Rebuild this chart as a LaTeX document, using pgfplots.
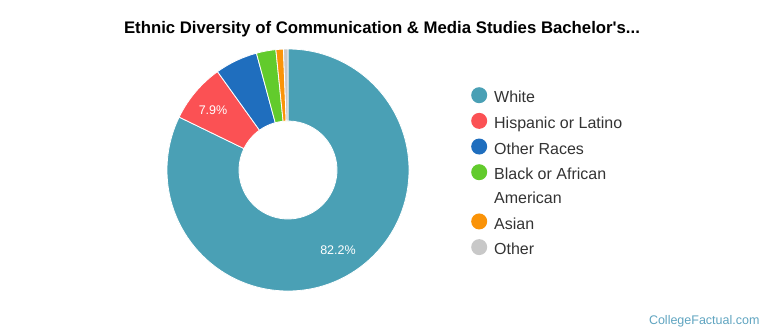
\documentclass[border=0pt]{standalone}
\usepackage{pgfplots}
\pgfplotsset{compat=1.18}
\usepackage{pgfplotstable}
\usepackage{fontspec}
\setmainfont{Liberation Sans}
\usetikzlibrary{calc}
\definecolor{cWhite}{HTML}{4AA0B5}
\definecolor{cHisp}{HTML}{FB5154}
\definecolor{cOtherR}{HTML}{1F6EBE}
\definecolor{cBlack}{HTML}{62CB2C}
\definecolor{cAsian}{HTML}{FA9308}
\definecolor{cOth}{HTML}{C8C8C8}
\definecolor{txt}{HTML}{333333}
\definecolor{brand}{HTML}{5FA4C0}

\pgfplotstableread{
name value color
White 82.2 cWhite
Hispanic 7.9 cHisp
OtherRaces 5.7 cOtherR
Black 2.6 cBlack
Asian 1.0 cAsian
Other 0.6 cOth
}\ethnic

\begin{document}
\begin{tikzpicture}
\def\cum{0}
\pgfplotsforeachungrouped \i in {0,...,5}{%
  \pgfplotstablegetelem{\i}{value}\of\ethnic
  \let\val\pgfplotsretval
  \pgfplotstablegetelem{\i}{color}\of\ethnic
  \expandafter\xdef\csname col\i\endcsname{\pgfplotsretval}%
  \pgfmathsetmacro{\sA}{90-3.6*\cum}%
  \pgfmathsetmacro{\newcum}{\cum+\val}%
  \pgfmathsetmacro{\eA}{90-3.6*\newcum}%
  \expandafter\xdef\csname sA\i\endcsname{\sA}%
  \expandafter\xdef\csname eA\i\endcsname{\eA}%
  \xdef\cum{\newcum}%
}
\begin{axis}[
  x=1bp, y=1bp, xmin=0, xmax=770, ymin=0, ymax=335,
  scale only axis, hide axis, clip=false,
  legend image code/.code={\fill[#1] (4bp,0.5ex) circle (8bp);},
  legend style={at={(axis cs:468,250)}, anchor=north west, draw=none, fill=none,
    font=\fontsize{16bp}{21bp}\selectfont, text=txt, row sep=6.5bp,
    /tikz/every odd column/.append style={column sep=5bp}},
  legend cell align=left,
]
\path (axis cs:0,0) rectangle (axis cs:770,335);
\pgfplotsinvokeforeach{0,...,5}{%
  \edef\tmp{\noexpand\fill[fill=\csname col#1\endcsname, draw=white, line width=0.8bp]
    ($(axis cs:288,165)+(\csname sA#1\endcsname:121bp)$)
    arc[start angle=\csname sA#1\endcsname, end angle=\csname eA#1\endcsname, radius=121bp]
    -- ($(axis cs:288,165)+(\csname eA#1\endcsname:49bp)$)
    arc[start angle=\csname eA#1\endcsname, end angle=\csname sA#1\endcsname, radius=49bp]
    -- cycle;}%
  \tmp
}
\addlegendimage{fill=cWhite,draw=none}
\addlegendentry{White}
\addlegendimage{fill=cHisp,draw=none}
\addlegendentry{Hispanic or Latino}
\addlegendimage{fill=cOtherR,draw=none}
\addlegendentry{Other Races}
\addlegendimage{fill=cBlack,draw=none}
\addlegendentry{Black or African}
\addlegendimage{empty legend}
\addlegendentry{American}
\addlegendimage{fill=cAsian,draw=none}
\addlegendentry{Asian}
\addlegendimage{fill=cOth,draw=none}
\addlegendentry{Other}
\node[text=white, font=\fontsize{12.5bp}{14bp}\selectfont] at (axis cs:213,225) {7.9\%};
\node[text=white, font=\fontsize{12.5bp}{14bp}\selectfont] at (axis cs:338,85) {82.2\%};
\node[font=\bfseries\fontsize{16.75bp}{20bp}\selectfont, text=black] at (axis cs:382,306) {Ethnic Diversity of Communication \& Media Studies Bachelor\textquotesingle s...};
\node[font=\fontsize{12.5bp}{16bp}\selectfont, text=brand, anchor=east] at (axis cs:763,14) {CollegeFactual.com};
\end{axis}
\end{tikzpicture}
\end{document}
